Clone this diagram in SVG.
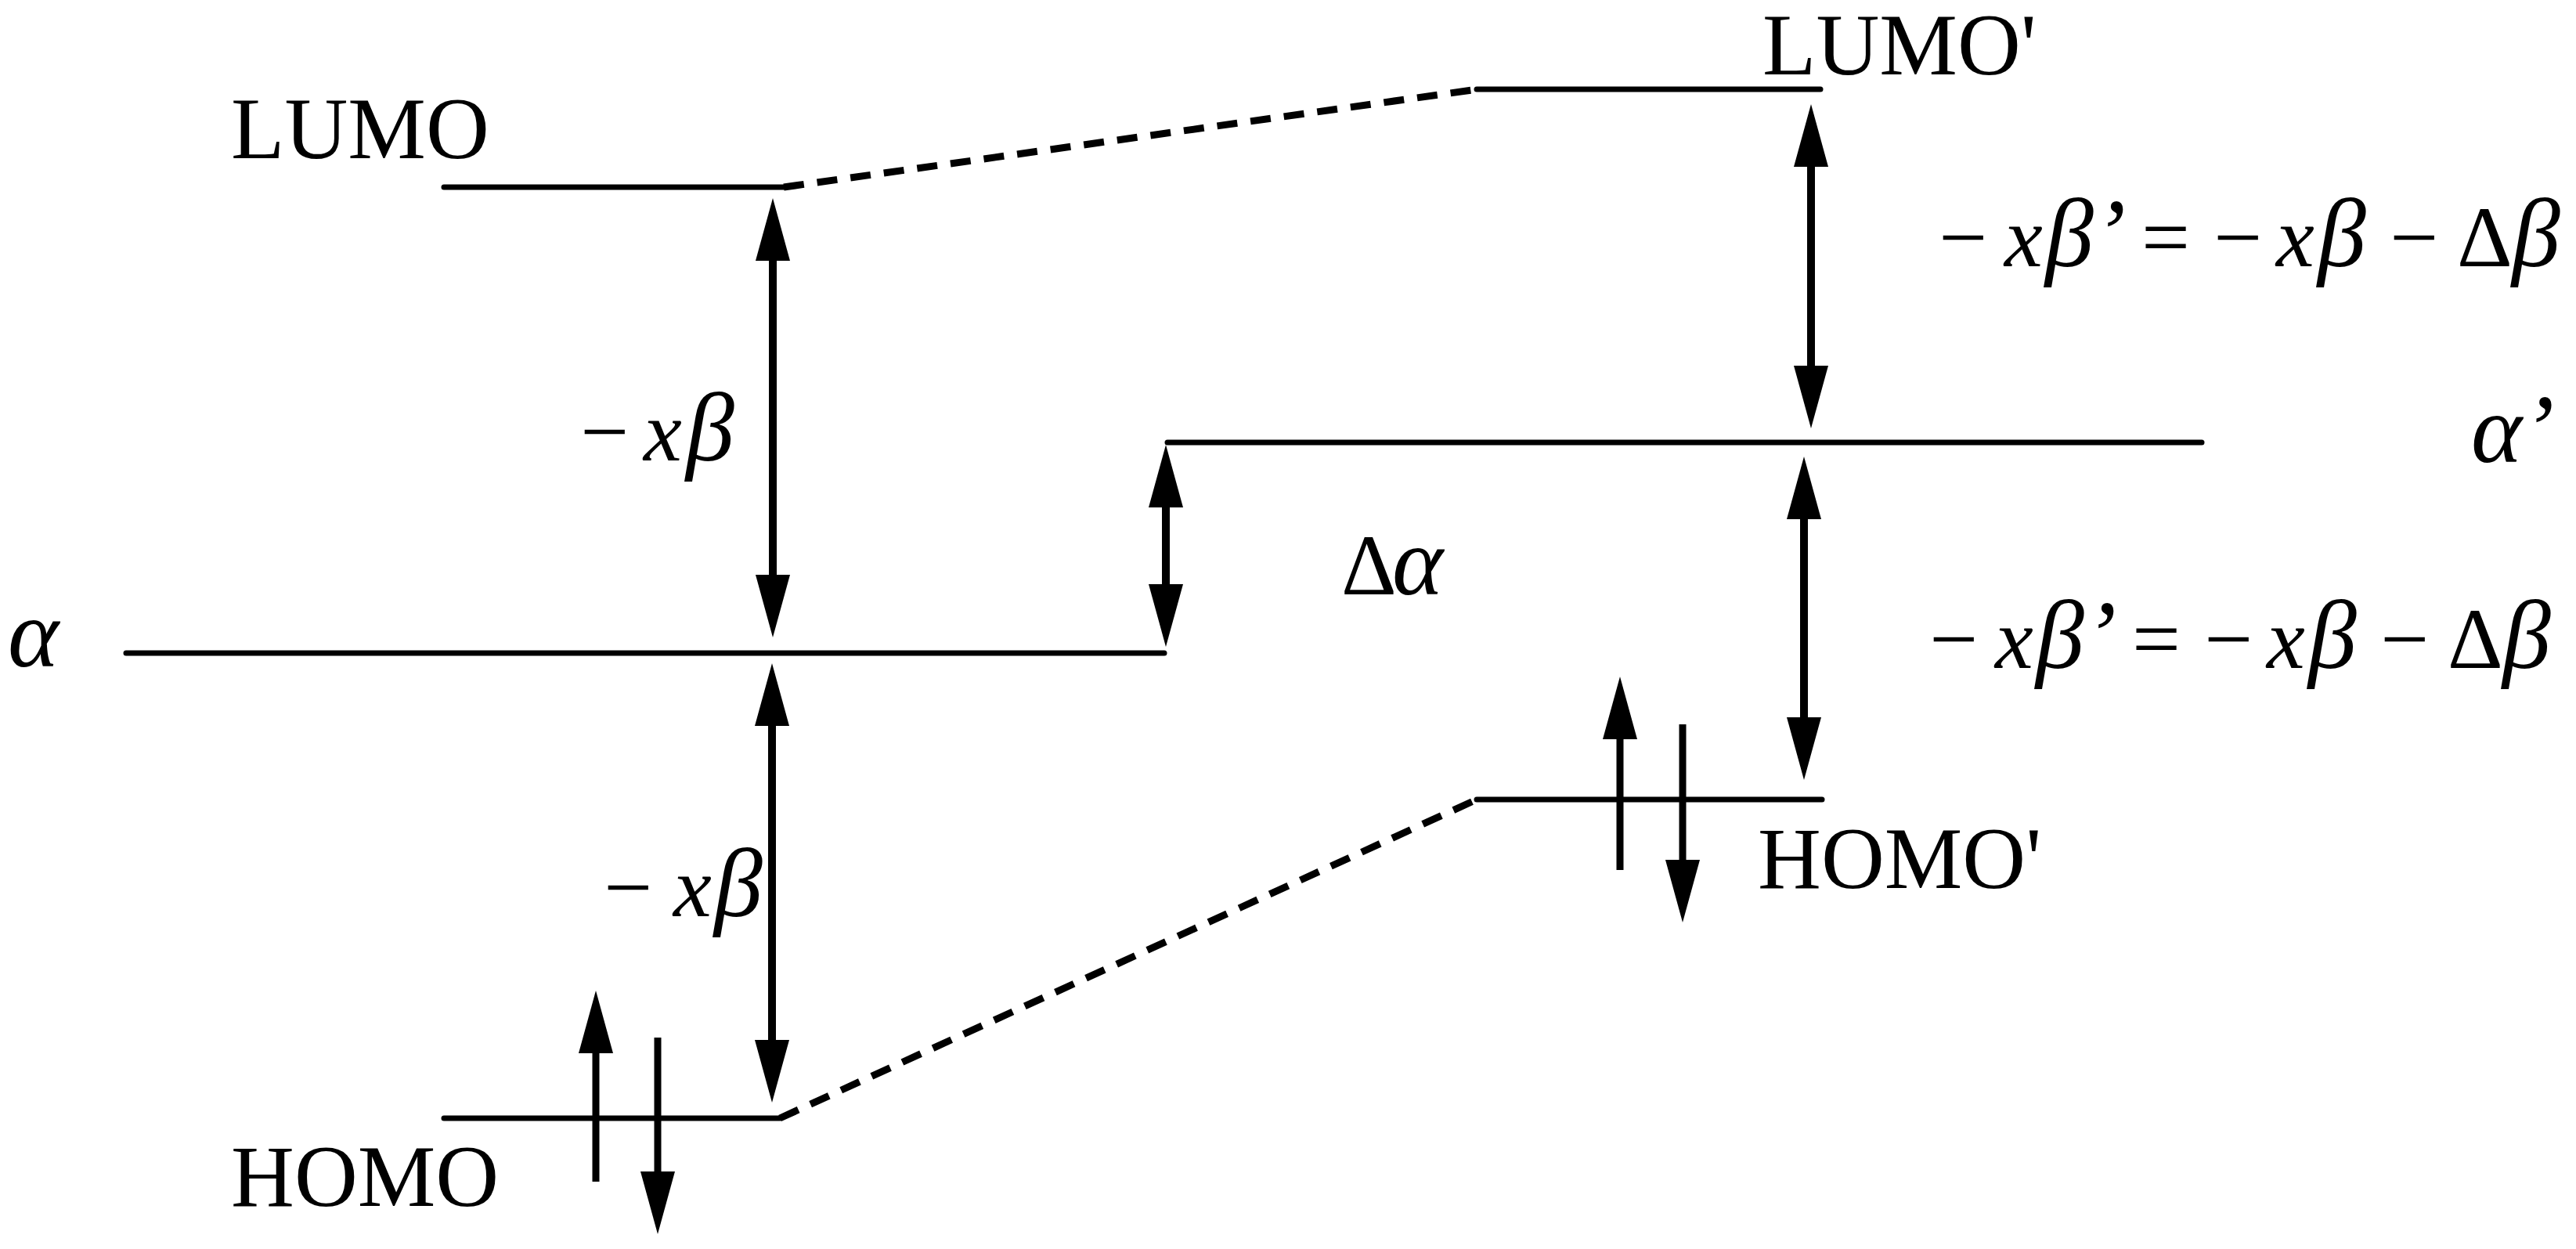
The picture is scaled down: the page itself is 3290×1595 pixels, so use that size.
<svg xmlns="http://www.w3.org/2000/svg" width="3290" height="1595" viewBox="0 0 3290 1595">
<style>
.lvl{stroke:#000;stroke-width:7;stroke-linecap:round;fill:none}
.dash{stroke:#000;stroke-width:9;stroke-dasharray:26 17;fill:none}
.arr{stroke:#000;stroke-width:10;fill:none;marker-start:url(#ah);marker-end:url(#ah)}
.el{stroke:#000;stroke-width:9;fill:none;marker-end:url(#ah)}
text{font-family:"Liberation Serif","Times New Roman",serif;fill:#000}
.lab{font-size:112px}
.m{font-size:110px}
.i{font-style:italic}
.g{font-style:italic;font-size:124px}
</style>
<defs>
<marker id="ah" markerUnits="userSpaceOnUse" viewBox="0 0 80 44" refX="8" refY="22" markerWidth="80" markerHeight="44" orient="auto-start-reverse"><path d="M0,0 L80,22 L0,44 z" fill="#000"/></marker>
</defs>
<rect width="3290" height="1595" fill="#fff"/>
<g id="lumo">
<line class="lvl" x1="567" y1="239" x2="1003" y2="239"/>
<text class="lab" x="295" y="202">LUMO</text>
</g>
<g id="lumo-prime">
<line class="lvl" x1="1886" y1="114" x2="2325" y2="114"/>
<text class="lab" x="2251" y="95">LUMO'</text>
</g>
<g id="alpha">
<line class="lvl" x1="161" y1="834" x2="1487" y2="834"/>
<text class="g" x="10" y="851">α</text>
</g>
<g id="alpha-prime">
<line class="lvl" x1="1491" y1="565" x2="2812" y2="565"/>
<text class="g" x="3156" y="590">α’</text>
</g>
<g id="homo">
<line class="lvl" x1="567" y1="1428" x2="996" y2="1428"/>
<line class="el" x1="761" y1="1509" x2="761" y2="1337"/>
<line class="el" x1="840" y1="1325" x2="840" y2="1504"/>
<text class="lab" x="295" y="1540">HOMO</text>
</g>
<g id="homo-prime">
<line class="lvl" x1="1886" y1="1021" x2="2327" y2="1021"/>
<line class="el" x1="2069" y1="1111" x2="2069" y2="936"/>
<line class="el" x1="2149" y1="925" x2="2149" y2="1106"/>
<text class="lab" x="2245" y="1134">HOMO'</text>
</g>
<g id="connectors">
<line class="dash" x1="1001" y1="239" x2="1887" y2="114"/>
<line class="dash" x1="996" y1="1428" x2="1886" y2="1021"/>
<line class="arr" x1="987" y1="325" x2="987" y2="742"/>
<line class="arr" x1="986" y1="919" x2="986" y2="1336"/>
<line class="arr" x1="1489" y1="640" x2="1489" y2="754"/>
<line class="arr" x1="2313" y1="205" x2="2313" y2="475"/>
<line class="arr" x1="2304" y1="655" x2="2304" y2="924"/>
<text class="m" y="588"><tspan x="741">−</tspan><tspan class="i" x="822">x</tspan><tspan class="g" x="876">β</tspan></text>
<text class="m" y="1170"><tspan x="771">−</tspan><tspan class="i" x="860">x</tspan><tspan class="g" x="912">β</tspan></text>
<text class="m" y="759"><tspan x="1713">Δ</tspan><tspan class="g" x="1778">α</tspan></text>
<text class="m" y="340"><tspan x="2476">−</tspan><tspan class="i" x="2560">x</tspan><tspan class="g" x="2612">β’</tspan><tspan x="2735">=</tspan><tspan x="2827">−</tspan><tspan class="i" x="2907">x</tspan><tspan class="g" x="2960">β</tspan><tspan x="3052">−</tspan><tspan x="3138">Δ</tspan><tspan class="g" x="3208">β</tspan></text>
<text class="m" y="853"><tspan x="2464">−</tspan><tspan class="i" x="2548">x</tspan><tspan class="g" x="2600">β’</tspan><tspan x="2723">=</tspan><tspan x="2815">−</tspan><tspan class="i" x="2895">x</tspan><tspan class="g" x="2948">β</tspan><tspan x="3040">−</tspan><tspan x="3126">Δ</tspan><tspan class="g" x="3196">β</tspan></text>
</g>
</svg>
